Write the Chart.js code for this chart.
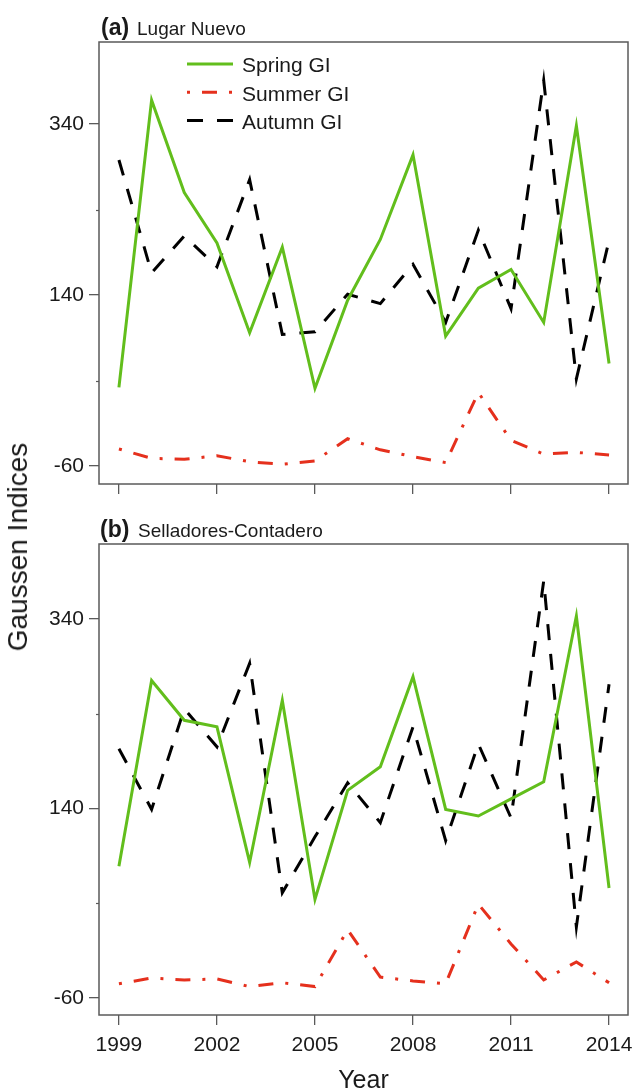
<!DOCTYPE html>
<html>
<head>
<meta charset="utf-8">
<script src="https://cdn.jsdelivr.net/npm/chart.js@4/dist/chart.umd.min.js"></script>
<style>
  html, body { margin: 0; padding: 0; background: #fff; }
  #wrap { position: relative; width: 633px; height: 1092px; overflow: hidden; font-family: 'Liberation Sans', Arial, sans-serif; color: #1a1a1a; }
  canvas { position: absolute; left: 0; }
  .txt { position: absolute; white-space: nowrap; line-height: 1; }
</style>
</head>
<body>
<div id="wrap">
  <canvas id="panelA" width="633" height="500" style="top:0px"></canvas>
  <canvas id="panelB" width="633" height="592" style="top:500px"></canvas>
</div>
<script>
// Years on the x axis
const YEARS = [1999, 2000, 2001, 2002, 2003, 2004, 2005, 2006, 2007, 2008, 2009, 2010, 2011, 2012, 2013, 2014];
const X_TICKS = [1999, 2002, 2005, 2008, 2011, 2014];
const Y_TICKS = [-60, 40, 140, 240, 340];
const Y_LABELS = [-60, 140, 340];

// (a) Lugar Nuevo
const LN_SPRING = [32, 368, 260, 201, 96, 196, 31, 134, 205, 304, 92, 148, 170, 108, 338, 60];
const LN_SUMMER = [-40, -51, -52, -48, -55, -58, -54, -28, -41, -49, -56, 26, -30, -46, -44, -47];
const LN_AUTUMN = [298, 166, 209, 173, 275, 94, 97, 141, 130, 176, 108, 216, 124, 391, 42, 204];

// (b) Selladores-Contadero
const SC_SPRING = [79, 275, 233, 226, 83, 254, 44, 159, 184, 279, 139, 132, 150, 168, 343, 56];
const SC_SUMMER = [-45, -39, -41, -40, -48, -44, -48, 12, -38, -42, -45, 39, -3, -41, -22, -44];
const SC_AUTUMN = [203, 139, 245, 205, 293, 51, 110, 167, 125, 226, 106, 208, 130, 380, 15, 271];

const SERIES_NAMES = ['Spring GI', 'Summer GI', 'Autumn GI'];

const FONT = "'Liberation Sans', Arial, sans-serif";
const GREEN = '#62be1c';
const RED = '#e5301d';
const BLACK = '#000000';
const FRAME = '#5a5a5a';
const TEXT = '#1a1a1a';

const STYLES = [
  { color: GREEN, dash: [] },
  { color: RED, dash: [3, 12, 15, 12] },
  { color: BLACK, dash: [16, 14] }
];

function points(values) {
  return YEARS.map((yr, i) => ({ x: yr, y: values[i] }));
}

function makeDatasets(spring, summer, autumn) {
  return [spring, summer, autumn].map((vals, i) => ({
    label: SERIES_NAMES[i],
    data: points(vals),
    borderColor: STYLES[i].color,
    borderDash: STYLES[i].dash,
    borderWidth: 3,
    borderCapStyle: 'butt',
    borderJoinStyle: 'miter',
    pointRadius: 0,
    tension: 0,
    fill: false
  }));
}

// Full rectangle around the plotting region, plus short marks at the unlabeled y ticks
const frameBox = {
  id: 'frameBox',
  afterDraw(chart) {
    const { ctx, chartArea: a } = chart;
    const ys = chart.scales.y;
    ctx.save();
    ctx.strokeStyle = FRAME;
    ctx.lineWidth = 1.5;
    ctx.strokeRect(a.left, a.top, a.right - a.left, a.bottom - a.top);
    ctx.lineWidth = 1.2;
    Y_TICKS.filter(v => !Y_LABELS.includes(v)).forEach(v => {
      const py = Math.round(ys.getPixelForValue(v)) + 0.5;
      ctx.beginPath();
      ctx.moveTo(a.left - 3, py);
      ctx.lineTo(a.left, py);
      ctx.stroke();
    });
    ctx.restore();
  }
};

// Series key in the upper-left of the first panel
const seriesKey = {
  id: 'seriesKey',
  afterDatasetsDraw(chart, args, opts) {
    if (!opts.show) return;
    const { ctx } = chart;
    ctx.save();
    chart.data.datasets.forEach((ds, i) => {
      const y = 64 + 28.2 * i;
      ctx.strokeStyle = ds.borderColor;
      ctx.lineWidth = 3;
      ctx.lineCap = 'butt';
      ctx.setLineDash(ds.borderDash || []);
      ctx.beginPath();
      ctx.moveTo(187, y);
      ctx.lineTo(233, y);
      ctx.stroke();
      ctx.setLineDash([]);
      ctx.fillStyle = TEXT;
      ctx.font = '21px ' + FONT;
      ctx.textBaseline = 'alphabetic';
      ctx.textAlign = 'left';
      ctx.fillText(ds.label, 242, y + 8.3);
    });
    ctx.restore();
  }
};

function makeOptions(cfg) {
  return {
    responsive: false,
    animation: false,
    devicePixelRatio: 1,
    layout: { padding: { top: cfg.padTop, right: 5, left: 0, bottom: 0 } },
    plugins: {
      legend: { display: false },
      tooltip: { enabled: false },
      title: { display: false },
      seriesKey: { show: cfg.key }
    },
    scales: {
      x: {
        type: 'linear',
        min: 1998.39,
        max: 2014.58,
        afterBuildTicks: s => { s.ticks = X_TICKS.map(v => ({ value: v })); },
        afterFit: s => { s.height = cfg.xHeight; s.paddingLeft = 0; s.paddingRight = 0; },
        grid: { drawOnChartArea: false, drawTicks: true, tickLength: 10, color: FRAME, lineWidth: 1.3 },
        border: { display: false },
        ticks: {
          autoSkip: false,
          maxRotation: 0,
          padding: 8,
          color: TEXT,
          font: { family: FONT, size: 21 },
          callback: v => cfg.xLabels ? String(v) : ''
        }
      },
      y: {
        type: 'linear',
        min: cfg.yMin,
        max: cfg.yMax,
        afterBuildTicks: s => { s.ticks = Y_TICKS.map(v => ({ value: v })); },
        afterFit: s => { s.width = 99; s.paddingTop = 0; s.paddingBottom = 0; },
        grid: {
          drawOnChartArea: false, drawTicks: true, tickLength: 10, lineWidth: 1.3,
          color: c => (c.tick && Y_LABELS.includes(c.tick.value)) ? FRAME : 'rgba(0,0,0,0)'
        },
        border: { display: false },
        ticks: {
          autoSkip: false,
          padding: 5,
          color: TEXT,
          font: { family: FONT, size: 21 },
          callback: v => Y_LABELS.includes(v) ? String(v) : ''
        }
      }
    }
  };
}

new Chart(document.getElementById('panelA'), {
  type: 'line',
  data: { datasets: makeDatasets(LN_SPRING, LN_SUMMER, LN_AUTUMN) },
  options: makeOptions({ padTop: 42, xHeight: 16, yMin: -81, yMax: 436, xLabels: false, key: true }),
  plugins: [frameBox, seriesKey]
});

new Chart(document.getElementById('panelB'), {
  type: 'line',
  data: { datasets: makeDatasets(SC_SPRING, SC_SUMMER, SC_AUTUMN) },
  options: makeOptions({ padTop: 44, xHeight: 77, yMin: -78, yMax: 419, xLabels: true, key: false }),
  plugins: [frameBox, seriesKey]
});

// Panel titles and axis titles, placed by their text baseline
const wrap = document.getElementById('wrap');
function addText(str, x, baseline, size, weight) {
  const el = document.createElement('div');
  el.className = 'txt';
  el.textContent = str;
  el.style.fontSize = size + 'px';
  el.style.fontWeight = weight || 'normal';
  el.style.left = x + 'px';
  el.style.top = (baseline - 0.8465 * size) + 'px';
  wrap.appendChild(el);
  return el;
}
addText('(a)', 101, 35, 23, 'bold');
addText('Lugar Nuevo', 137, 35, 19);
addText('(b)', 100, 537, 23, 'bold');
addText('Selladores-Contadero', 138, 537, 19);

const xTitle = addText('Year', 0, 1088, 25);
xTitle.style.left = '363.5px';
xTitle.style.transform = 'translateX(-50%)';

const yTitle = document.createElement('div');
yTitle.className = 'txt';
yTitle.textContent = 'Gaussen Indices';
yTitle.style.fontSize = '28px';
yTitle.style.left = '18px';
yTitle.style.top = '547px';
yTitle.style.transform = 'translate(-50%, -50%) rotate(-90deg)';
wrap.appendChild(yTitle);
</script>
</body>
</html>
